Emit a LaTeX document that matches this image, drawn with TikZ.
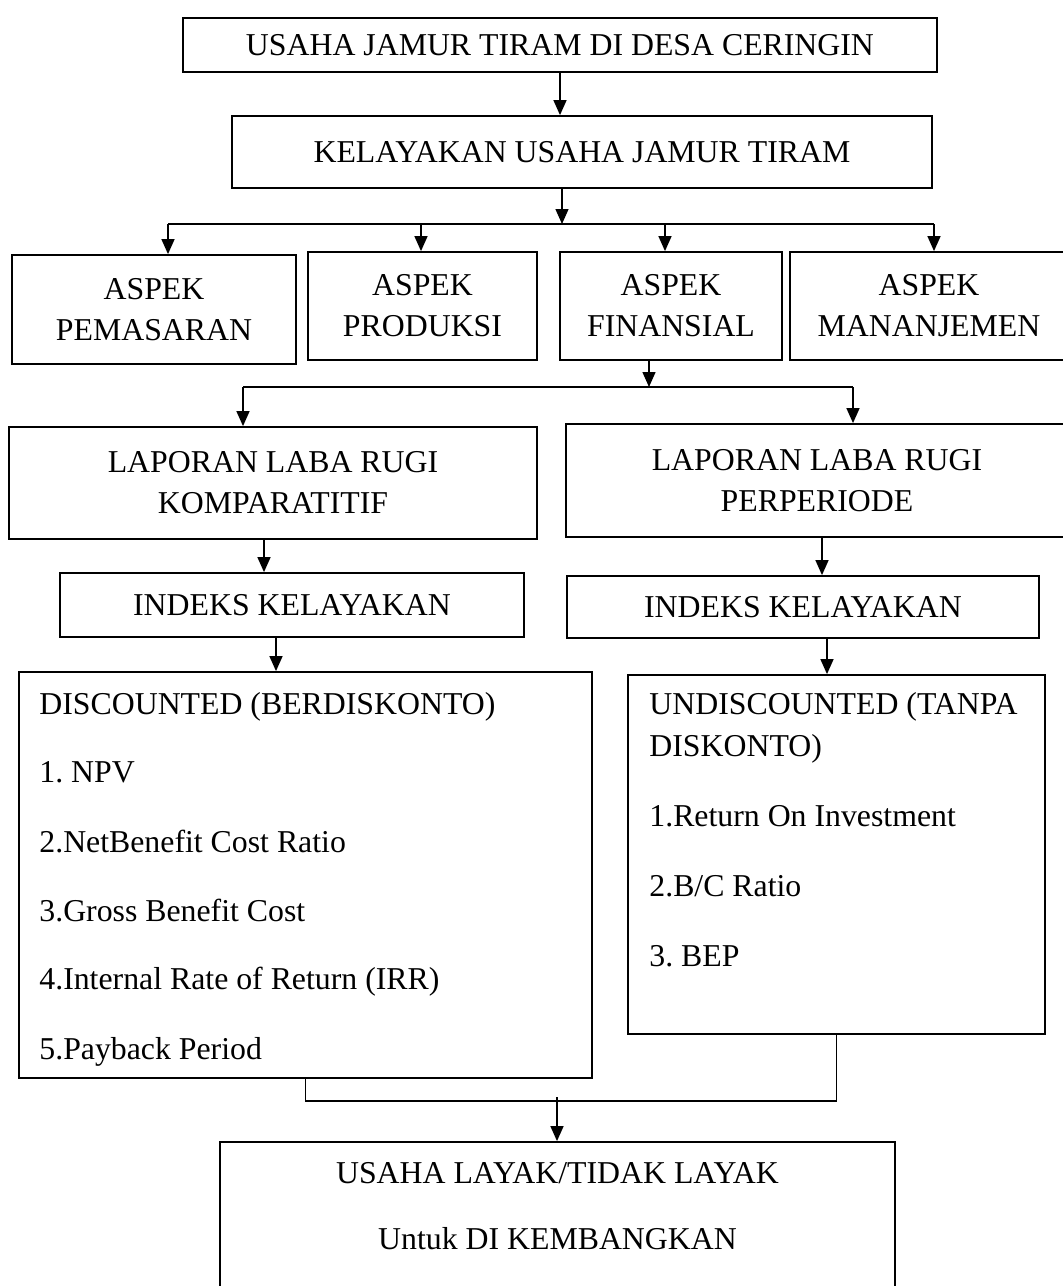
\documentclass[tikz,border=0pt]{standalone}
\usepackage{fontspec}
\setmainfont{Liberation Serif}
\usetikzlibrary{arrows.meta}
\frenchspacing

\begin{document}
\begin{tikzpicture}[x=0.5pt,y=-0.5pt,
  box/.style={draw,line width=0.9pt,align=center,inner sep=0pt,font=\fontsize{15.9}{20.5}\selectfont},
  txt/.style={anchor=base west,inner sep=0pt,font=\fontsize{15.9}{19}\selectfont},
  link/.style={line width=0.7pt},
  arr/.style={link,-{Triangle[length=7.5pt,width=6.5pt]}}]
  \useasboundingbox (0,0) rectangle (1063,1286);
  \clip (0,0) rectangle (1063,1286);
  \node[box,minimum width=377pt,minimum height=27pt] (top) at (560,45){USAHA JAMUR TIRAM DI DESA CERINGIN};
  \node[box,minimum width=350pt,minimum height=36pt] (kel) at (582,152){KELAYAKAN USAHA JAMUR TIRAM};
  \node[box,minimum width=142pt,minimum height=54.5pt] (pem) at (154,309.5){ASPEK\\PEMASARAN};
  \node[box,minimum width=114.5pt,minimum height=54pt] (pro) at (422.5,306){ASPEK\\PRODUKSI};
  \node[box,minimum width=111pt,minimum height=54pt] (fin) at (671,306){ASPEK\\FINANSIAL};
  \node[box,minimum width=139pt,minimum height=54pt] (man) at (929,306){ASPEK\\MANANJEMEN};
  \node[box,minimum width=264pt,minimum height=56pt] (lap1) at (273,483){LAPORAN LABA RUGI\\KOMPARATITIF};
  \node[box,minimum width=251pt,minimum height=56.5pt] (lap2) at (817,480.5){LAPORAN LABA RUGI\\PERPERIODE};
  \node[box,minimum width=232pt,minimum height=32pt] (idx1) at (292,605){INDEKS KELAYAKAN};
  \node[box,minimum width=236pt,minimum height=31pt] (idx2) at (803,607){INDEKS KELAYAKAN};
  \node[box,minimum width=286.5pt,minimum height=203pt] (disc) at (305.5,875){};
  \node[box,minimum width=208.5pt,minimum height=179.5pt] (undisc) at (836.5,854.5){};
  \node[box,minimum width=337.5pt,minimum height=79pt] (hasil) at (557.5,1221){};
  \node[txt] (d0) at (39,714.5){DISCOUNTED (BERDISKONTO)};
  \node[txt] (d1) at (39,782.5){1. NPV};
  \node[txt] (d2) at (39,852.5){2.NetBenefit Cost Ratio};
  \node[txt] (d3) at (39,921.5){3.Gross Benefit Cost};
  \node[txt] (d4) at (39,989.5){4.Internal Rate of Return (IRR)};
  \node[txt] (d5) at (39,1059.5){5.Payback Period};
  \node[txt] (u0) at (649,714.5){UNDISCOUNTED (TANPA};
  \node[txt] (u1) at (649,756.5){DISKONTO)};
  \node[txt] (u2) at (649,826.5){1.Return On Investment};
  \node[txt] (u3) at (649,896.5){2.B/C Ratio};
  \node[txt] (u4) at (649,966.5){3. BEP};
  \node[txt,anchor=base] (h1) at (557.5,1183.5){USAHA LAYAK/TIDAK LAYAK};
  \node[txt,anchor=base] (h2) at (557.5,1249.5){Untuk DI KEMBANGKAN};
  \coordinate (b1) at (562,224);
  \coordinate (tpem) at (168,224);
  \coordinate (tpro) at (421,224);
  \coordinate (tfin) at (665,224);
  \coordinate (tman) at (934,224);
  \coordinate (b2) at (649,387);
  \coordinate (b2l) at (243,387);
  \coordinate (b2r) at (853,387);
  \coordinate (j) at (557,1101);
  \draw[arr] (top.south) -- (top.south |- kel.north);
  \draw[arr] (b1 |- kel.south) -- (b1);
  \draw[link] (tpem) -- (tman);
  \draw[arr] (tpem) -- (tpem |- pem.north);
  \draw[arr] (tpro) -- (tpro |- pro.north);
  \draw[arr] (tfin) -- (tfin |- fin.north);
  \draw[arr] (tman) -- (tman |- man.north);
  \draw[arr] (b2 |- fin.south) -- (b2);
  \draw[link] (b2l) -- (b2r);
  \draw[arr] (b2l) -- (b2l |- lap1.north);
  \draw[arr] (b2r) -- (b2r |- lap2.north);
  \draw[arr] ([xshift=-4.5pt]lap1.south) -- ([xshift=-4.5pt]lap1.south |- idx1.north);
  \draw[arr] ([xshift=2.5pt]lap2.south) -- ([xshift=2.5pt]lap2.south |- idx2.north);
  \draw[arr] ([xshift=-8pt]idx1.south) -- ([xshift=-8pt]idx1.south |- disc.north);
  \draw[arr] ([xshift=12pt]idx2.south) -- ([xshift=12pt]idx2.south |- undisc.north);
  \draw[link] (disc.south) -- (disc.south |- j) -- (undisc.south |- j) -- (undisc.south);
  \draw[arr] ([yshift=2pt]j) -- (j |- hasil.north);
\end{tikzpicture}
\end{document}
